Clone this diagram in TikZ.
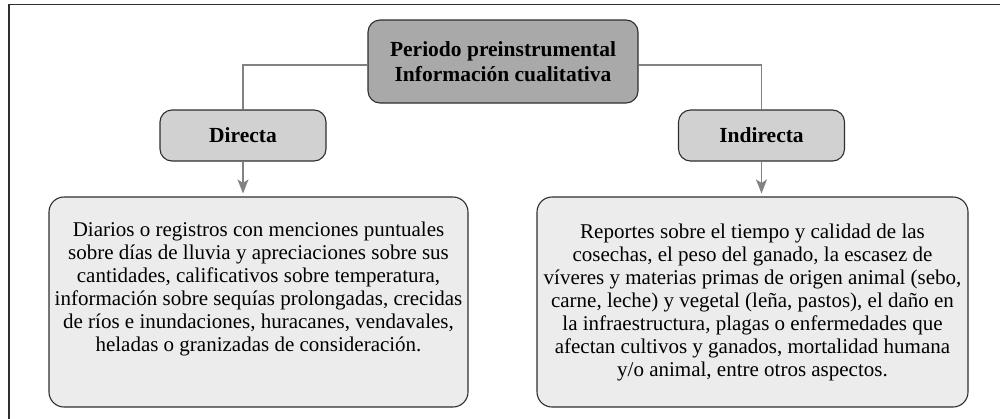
\documentclass[tikz,border=0pt]{standalone}
\usepackage{fontspec}
\setmainfont{Liberation Serif}
\usetikzlibrary{arrows.meta}
\definecolor{framec}{HTML}{2E2E2E}
\definecolor{topfill}{HTML}{A9A9A9}
\definecolor{midfill}{HTML}{D0D1D0}
\definecolor{lowfill}{HTML}{ECECEC}
\definecolor{linkc}{HTML}{828282}
\tikzset{
  boxline/.style={draw=framec, line width=1.1pt, rounded corners=12pt},
  topbox/.style={boxline, fill=topfill, minimum width=270pt, minimum height=83pt, align=center,
     font=\fontsize{21.5pt}{25pt}\selectfont\bfseries},
  midbox/.style={boxline, fill=midfill, minimum width=166pt, minimum height=51pt,
     font=\fontsize{21.5pt}{25pt}\selectfont\bfseries},
  lowbox/.style={boxline, rounded corners=15pt, fill=lowfill, minimum height=210pt, align=center,
     inner xsep=2pt, font=\fontsize{21pt}{23pt}\selectfont},
  link/.style={draw=linkc, line width=1.4pt},
  arrowlink/.style={link, -{Stealth[length=14pt,width=11pt,inset=3.5pt]}, shorten >=3pt}
}
\begin{document}
\begin{tikzpicture}[x=1pt,y=-1pt]
\useasboundingbox (0,0) rectangle (1000,418);
\coordinate (fbl) at (9,420);
\coordinate (ftl) at (9,4.5);
\coordinate (ftr) at (1002,4.5);
\draw[draw=framec, line width=1.2pt] (fbl) -- (ftl) -- (ftr);

\node[topbox] (top) at (503,61.5) {Periodo preinstrumental\\Información cualitativa};
\node[midbox] (dir) at (243,135.5) {Directa};
\node[midbox] (ind) at (761.5,135.5) {Indirecta};

\node[lowbox, minimum width=419pt] (ldesc) at (258.5,302) {Diarios o registros con menciones puntuales\\
sobre días de lluvia y apreciaciones sobre sus\\
cantidades, calificativos sobre temperatura,\\
información sobre sequías prolongadas, crecidas\\
de ríos e inundaciones, huracanes, vendavales,\\
heladas o granizadas de consideración.\\ \strut};
\node[lowbox, minimum width=431pt] (rdesc) at (752.5,302) {Reportes sobre el tiempo y calidad de las\\
cosechas, el peso del ganado, la escasez de\\
víveres y materias primas de origen animal (sebo,\\
carne, leche) y vegetal (leña, pastos), el daño en\\
la infraestructura, plagas o enfermedades que\\
afectan cultivos y ganados, mortalidad humana\\
y/o animal, entre otros aspectos.};

\draw[link] (top.west |- 0,65) -| (dir.north);
\draw[link] (top.east |- 0,65) -| (ind.north);
\draw[arrowlink] (dir.south) -- (dir.south |- ldesc.north);
\draw[arrowlink] (ind.south) -- (ind.south |- rdesc.north);
\end{tikzpicture}
\end{document}
